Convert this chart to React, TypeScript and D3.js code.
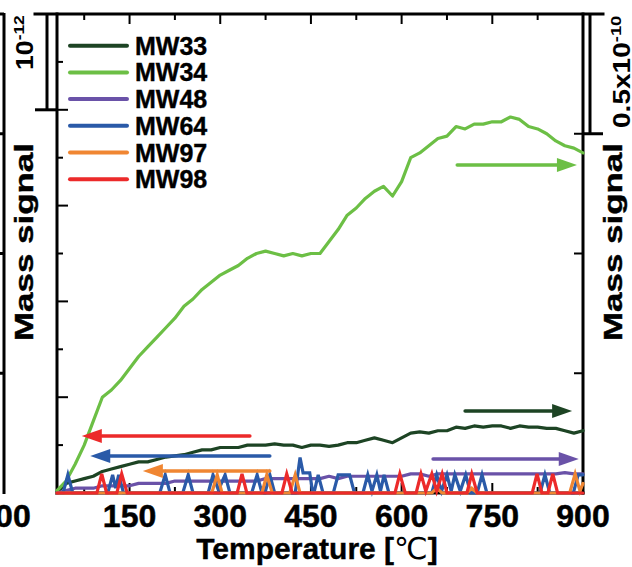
import React from 'react';
import * as d3 from 'd3';

// Temperature grid (°C) for the continuous traces
const temps = [30,45,60,75,90,105,120,135,150,165,180,195,210,225,240,255,270,285,300,315,330,345,360,375,390,405,420,435,450,465,480,495,510,525,540,555,570,585,600,615,630,645,660,675,690,705,720,735,750,765,780,795,810,825,840,855,870,885,900];

// Right-axis traces (units of 1e-10)
const mw33 = [0.00,0.04,0.05,0.06,0.07,0.09,0.10,0.11,0.12,0.13,
  0.13,0.14,0.15,0.155,0.16,0.17,0.18,0.18,0.19,0.19,
  0.19,0.20,0.20,0.20,0.205,0.20,0.20,0.19,0.20,0.20,
  0.195,0.20,0.21,0.21,0.22,0.23,0.22,0.21,0.23,0.25,
  0.255,0.25,0.26,0.26,0.275,0.27,0.28,0.275,0.28,0.28,
  0.27,0.28,0.275,0.275,0.27,0.27,0.26,0.25,0.26];
const mw34 = [0.01,0.05,0.12,0.20,0.30,0.40,0.43,0.47,0.52,0.57,
  0.61,0.65,0.69,0.73,0.78,0.81,0.85,0.88,0.91,0.93,
  0.95,0.98,1.00,1.01,1.00,0.99,1.00,0.99,1.00,1.00,
  1.05,1.10,1.16,1.19,1.23,1.26,1.28,1.24,1.30,1.40,
  1.42,1.45,1.48,1.49,1.53,1.52,1.54,1.54,1.55,1.55,
  1.57,1.56,1.53,1.52,1.50,1.47,1.45,1.44,1.42];
const mw48 = [0.00,0.01,0.02,0.02,0.02,0.03,0.03,0.03,0.03,0.04,
  0.04,0.04,0.04,0.05,0.05,0.05,0.05,0.05,0.05,0.05,
  0.05,0.05,0.05,0.06,0.06,0.06,0.06,0.06,0.06,0.06,
  0.07,0.06,0.07,0.07,0.07,0.07,0.07,0.07,0.07,0.08,
  0.08,0.07,0.08,0.08,0.08,0.08,0.08,0.08,0.08,0.08,
  0.08,0.08,0.08,0.08,0.08,0.08,0.085,0.08,0.08];

// Left-axis spiky traces: [temperature, signal (units of 1e-12)]
const mw64: [number, number][] = [[30,0],[40,0],[48,0.19],[56,0],[114,0],[122,0.19],[127,0.05],[132,0.19],[140,0],[200,0],[209,0.19],[217,0],[238,0],[247,0.19],[255,0],[280,0],[288,0.19],[297,0.03],[308,0.19],[316,0],[352,0],[361,0.19],[369,0],[374,0],[382,0.19],[390,0],[424,0],[432,0.37],[437,0.21],[448,0.21],[453,0],[455,0],[462,0.19],[470,0],[487,0],[495,0.19],[514,0.19],[522,0],[536,0],[544,0.19],[551,0.02],[559,0.19],[565,0.02],[571,0.19],[579,0],[650,0],[658,0.19],[666,0.02],[675,0.19],[682,0.02],[688,0.19],[697,0.02],[706,0.19],[714,0],[725,0],[733,0.19],[741,0],[829,0],[837,0.19],[845,0],[884,0],[892,0.19],[900,0.19]];
const mw97: [number, number][] = [[30,0],[286,0],[295,0.19],[303,0],[369,0],[377,0.19],[386,0],[415,0],[424,0.19],[432,0],[650,0],[658,0.05],[667,0],[708,0],[716,0.05],[725,0],[878,0],[887,0.2],[895,0.02],[900,0.1]];
const mw98: [number, number][] = [[30,0],[96,0],[104,0.2],[112,0],[129,0],[137,0.2],[146,0],[328,0],[336,0.2],[344,0],[402,0],[410,0.2],[419,0],[589,0],[597,0.2],[606,0],[624,0],[632,0.2],[640,0.02],[650,0.2],[658,0.02],[667,0.2],[675,0],[708,0],[716,0.2],[725,0],[816,0],[824,0.2],[832,0],[842,0],[850,0.2],[858,0],[900,0]];

const seriesNames = ['MW33', 'MW34', 'MW48', 'MW64', 'MW97', 'MW98'];
const seriesColors = ['#1d4424', '#6cbf45', '#6a52a8', '#2a5aa8', '#f08632', '#ec2a2a'];

// Direction arrows: series index, tail T, tip T, level
const arrowSeries = [5, 3, 4, 0, 2, 1];
const arrowTail = [349, 382, 382, 705, 652, 692];
const arrowTip = [71, 85, 172, 882, 893, 890];
const arrowLevel = [0.595, 0.386, 0.23, 0.342, 0.142, 1.37];

const xTickLabels = [150, 300, 450, 600, 750, 900];

const W = 632, H = 567;
const FONT = "'Liberation Sans', Arial, Helvetica, sans-serif";

export default function App() {
  const x = d3.scaleLinear().domain([30, 900]).range([57, 583]);
  const yR = d3.scaleLinear().domain([0, 2]).range([493, 14]);
  const yL = d3.scaleLinear().domain([0, 5]).range([493, 14]);
  const left = x.range()[0], right = x.range()[1];
  const top = yL.range()[1], bottom = yL.range()[0];

  const lineR = d3.line<number>().x((_, i) => x(temps[i])).y(d => yR(d));
  const lineL = d3.line<[number, number]>().x(d => x(d[0])).y(d => yL(d[1]));

  const rightSeries = [mw33, mw34, mw48];
  const leftSeries = [mw64, mw97, mw98];

  const xTicks = d3.range(75, 901, 75);
  const yLTicks = d3.range(0.5, 5, 0.5);
  const yRTicks = [0.5, 1, 1.5];
  const axisW = 3;

  const prevAxisX = 4;

  return (
    <svg width={W} height={H} style={{ position: 'fixed', left: 0, top: 0, background: '#fff' }} fontFamily={FONT}>
      <rect x={0} y={0} width={W} height={H} fill="#fff" />
      {/* neighbouring panel's right axis (cropped) */}
      <g stroke="#000" strokeWidth={axisW} fill="none">
        <line x1={prevAxisX} x2={prevAxisX} y1={top - 1} y2={bottom + 1} />
        <line x1={0} x2={prevAxisX} y1={top} y2={top} />
        {yRTicks.map(t => <line key={t} x1={prevAxisX - 8} x2={prevAxisX} y1={yR(t)} y2={yR(t)} />)}
      </g>
      <text x={prevAxisX} y={527} textAnchor="middle" fontSize={32} fontWeight="bold" stroke="#000" strokeWidth={0.5}>900</text>

      {/* frame */}
      <g stroke="#000" strokeWidth={axisW} fill="none" strokeLinecap="square">
        <line x1={35} x2={603} y1={top} y2={top} />
        <line x1={left} x2={left} y1={top} y2={bottom} />
        <line x1={right} x2={right} y1={top} y2={bottom} />
        <line x1={left} x2={right} y1={bottom} y2={bottom} />
      </g>
      {/* scale bars */}
      <g stroke="#000" strokeWidth={axisW} fill="none">
        <line x1={47} x2={47} y1={yL(5)} y2={yL(4)} />
        <line x1={35} x2={left} y1={yL(4)} y2={yL(4)} />
        <line x1={590} x2={590} y1={yR(2)} y2={yR(1.5)} />
        <line x1={right} x2={603} y1={yR(1.5)} y2={yR(1.5)} />
      </g>
      {/* ticks */}
      <g stroke="#000" strokeWidth={2}>
        {xTicks.map(t => {
          const len = t % 150 === 0 ? 10 : 6;
          return (
            <g key={t}>
              <line x1={x(t)} x2={x(t)} y1={top} y2={top + len} />
              <line x1={x(t)} x2={x(t)} y1={bottom} y2={bottom - len} />
            </g>
          );
        })}
        {yLTicks.map(t => {
          const len = Number.isInteger(t) ? 11 : 6;
          return <line key={t} x1={left} x2={left + len} y1={yL(t)} y2={yL(t)} />;
        })}
        {yRTicks.map(t => <line key={t} x1={right - 9} x2={right} y1={yR(t)} y2={yR(t)} />)}
      </g>

      {/* data */}
      <g fill="none" strokeWidth={3.2} strokeLinejoin="round" strokeLinecap="round">
        {rightSeries.map((s, i) => (
          <path key={'r' + i} d={lineR(s) || ''} stroke={seriesColors[i]} />
        ))}
        {leftSeries.map((s, i) => (
          <path key={'l' + i} d={lineL(s) || ''} stroke={seriesColors[i + 3]} strokeLinejoin="miter" />
        ))}
      </g>

      {/* arrows */}
      {arrowSeries.map((si, k) => {
        const y = si >= 3 ? yL(arrowLevel[k]) : yR(arrowLevel[k]);
        const xt = x(arrowTail[k]);
        const xh = x(arrowTip[k]);
        const dir = xh > xt ? 1 : -1;
        const hl = 20, hw = 7;
        const base = xh - dir * hl;
        return (
          <g key={'a' + k}>
            <line x1={xt} x2={base} y1={y} y2={y} stroke={seriesColors[si]} strokeWidth={3.5} strokeLinecap="round" />
            <polygon points={`${xh},${y} ${base},${y - hw} ${base},${y + hw}`} fill={seriesColors[si]} />
          </g>
        );
      })}

      {/* legend */}
      {seriesNames.map((n, i) => {
        const ly = 45.7 + i * 26.7;
        return (
          <g key={n}>
            <line x1={70} x2={127} y1={ly} y2={ly} stroke={seriesColors[i]} strokeWidth={4} strokeLinecap="round" />
            <text x={135} y={ly + 9} fontSize={25} fontWeight="bold" stroke="#000" strokeWidth={0.4}>{n}</text>
          </g>
        );
      })}

      {/* x tick labels */}
      {xTickLabels.map(t => (
        <text key={t} x={x(t)} y={527} textAnchor="middle" fontSize={32} fontWeight="bold" stroke="#000" strokeWidth={0.5}>{t}</text>
      ))}
      <text x={317} y={559} textAnchor="middle" fontSize={30} fontWeight="bold" stroke="#000" strokeWidth={0.4}>
        Temperature [<tspan fontFamily="'DejaVu Sans', sans-serif" fontWeight="normal" strokeWidth={0}>℃</tspan>]
      </text>

      {/* y titles */}
      <text transform="translate(33,341) rotate(-90)" fontSize={26} fontWeight="bold" textLength={198} lengthAdjust="spacingAndGlyphs" stroke="#000" strokeWidth={0.4}>Mass signal</text>
      <text transform="translate(622,341) rotate(-90)" fontSize={26} fontWeight="bold" textLength={198} lengthAdjust="spacingAndGlyphs" stroke="#000" strokeWidth={0.4}>Mass signal</text>

      {/* scale bar labels */}
      <text transform="translate(33,70) rotate(-90) scale(1.16,1)" fontSize={23} fontWeight="bold">
        10<tspan dy={-9} fontSize={15}>-12</tspan>
      </text>
      <text transform="translate(630,128) rotate(-90) scale(1.22,1)" fontSize={23} fontWeight="bold">
        0.5x10<tspan dy={-9} fontSize={15}>-10</tspan>
      </text>
    </svg>
  );
}
